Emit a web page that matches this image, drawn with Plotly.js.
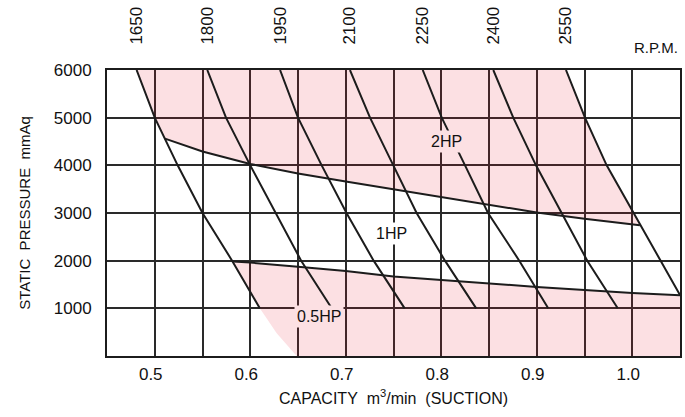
<!DOCTYPE html>
<html><head><meta charset="utf-8">
<script src="https://cdn.plot.ly/plotly-3.0.1.min.js"></script>
<style>html,body{margin:0;padding:0;background:#fff}</style>
</head><body><div id="chart" style="width:685px;height:417px"></div>
<script>
// ---- data ----
const xRange = [0.45, 1.05];
const yRange = [0, 6000];
const xTickVals = [0.5, 0.6, 0.7, 0.8, 0.9, 1.0];
const xTickText = ['0.5', '0.6', '0.7', '0.8', '0.9', '1.0'];
const yTickVals = [1000, 2000, 3000, 4000, 5000, 6000];
const yTickText = ['1000', '2000', '3000', '4000', '5000', '6000'];

const rpmLabels = ['1650', '1800', '1950', '2100', '2250', '2400', '2550'];
const pressureLevels = [6000, 5000, 4000, 3000, 2000, 1000];
const rpm1650 = [0.481, 0.500, 0.524, 0.550, 0.581, 0.610];
const rpm1800 = [0.555, 0.5746, 0.600, 0.6266, 0.6533, 0.6853];
const rpm1950 = [0.6312, 0.650, 0.6748, 0.7008, 0.7292, 0.7617];
const rpm2100 = [0.7044, 0.7254, 0.7498, 0.7742, 0.8039, 0.8366];
const rpm2250 = [0.7806, 0.8005, 0.8249, 0.849, 0.8817, 0.912];
const rpm2400 = [0.8545, 0.8754, 0.8992, 0.926, 0.9529, 0.9848];
const rpm2550X = [0.9306, 0.9505, 0.9732, 1.0015, 1.0297, 1.05];
const rpm2550Y = [6000, 5000, 4000, 3000, 2000, 1280];

const hp1X = [0.5107, 0.55, 0.6, 0.65, 0.7, 0.75, 0.8, 0.85, 0.9, 0.95, 1.0, 1.008];
const hp1Y = [4560, 4290, 4030, 3830, 3660, 3500, 3340, 3170, 3010, 2880, 2760, 2745];
const hp05X = [0.582, 0.6, 0.65, 0.7, 0.75, 0.8, 0.85, 0.9, 0.95, 1.0, 1.05];
const hp05Y = [1985, 1960, 1870, 1785, 1670, 1595, 1515, 1450, 1385, 1320, 1275];
// pink edge below the 1650 curve (no line drawn)
const edgeX = [0.6277, 0.6486];
const edgeY = [476, 0];

const hpLabels = ['2HP', '1HP', '0.5HP'];
const hpLabelX = [0.8057, 0.748, 0.672];
const hpLabelY = [4490, 2574, 829];

// ---- styles ----
const INK = '#1c1c1c';
const GRID = '#2a2a2a';
const PINK = '#fce0e3';
const PINK_FILL = 'rgba(232,17,40,0.13)';
const FONT = 'Liberation Sans, Arial, sans-serif';

// ---- build shaded regions ----
const upX = [], upY = [];
pressureLevels.forEach((p, i) => { if (p > hp1Y[0]) { upX.push(rpm1650[i]); upY.push(p); } });
hp1X.forEach((x, i) => { upX.push(x); upY.push(hp1Y[i]); });
for (let i = rpm2550Y.length - 1; i >= 0; i--) {
  if (rpm2550Y[i] > hp1Y[hp1Y.length - 1]) { upX.push(rpm2550X[i]); upY.push(rpm2550Y[i]); }
}

const lowX = [], lowY = [];
hp05X.forEach((x, i) => { lowX.push(x); lowY.push(hp05Y[i]); });
lowX.push(xRange[1]); lowY.push(yRange[0]);
for (let i = edgeX.length - 1; i >= 0; i--) { lowX.push(edgeX[i]); lowY.push(edgeY[i]); }
for (let i = pressureLevels.length - 1; i >= 0; i--) {
  if (pressureLevels[i] < hp05Y[0]) { lowX.push(rpm1650[i]); lowY.push(pressureLevels[i]); }
}

const traces = [];
[[upX, upY], [lowX, lowY]].forEach(([x, y]) => traces.push({
  type: 'scatter', mode: 'lines', x: x, y: y, fill: 'toself',
  fillcolor: PINK_FILL, line: { width: 0 }, hoverinfo: 'skip', showlegend: false
}));

const rpmCurves = [rpm1650, rpm1800, rpm1950, rpm2100, rpm2250, rpm2400];
rpmCurves.forEach((c, i) => traces.push({
  type: 'scatter', mode: 'lines', x: c, y: pressureLevels, name: rpmLabels[i] + ' RPM',
  line: { color: INK, width: 2 }, showlegend: false
}));
traces.push({ type: 'scatter', mode: 'lines', x: rpm2550X, y: rpm2550Y, name: '2550 RPM',
  line: { color: INK, width: 2 }, showlegend: false });
traces.push({ type: 'scatter', mode: 'lines', x: hp1X, y: hp1Y, name: '1HP',
  line: { color: INK, width: 2 }, showlegend: false });
traces.push({ type: 'scatter', mode: 'lines', x: hp05X, y: hp05Y, name: '0.5HP',
  line: { color: INK, width: 2 }, showlegend: false });

const rpmTopX = [rpm1650[0], rpm1800[0], rpm1950[0], rpm2100[0], rpm2250[0], rpm2400[0], rpm2550X[0]];
// carrier for the top RPM axis
traces.push({ type: 'scatter', mode: 'none', x: rpmTopX, y: rpmTopX.map(() => yRange[1]),
  xaxis: 'x2', yaxis: 'y', hoverinfo: 'skip', showlegend: false });

const annotations = hpLabels.map((t, i) => ({
  x: hpLabelX[i], y: hpLabelY[i], xref: 'x', yref: 'y', text: t, showarrow: false,
  font: { family: FONT, size: 16, color: '#111' },
  bgcolor: t === '1HP' ? '#ffffff' : PINK, borderpad: 2
}));
annotations.push({
  x: 0.958, y: 1.08, xref: 'paper', yref: 'paper', xanchor: 'center', yanchor: 'middle',
  text: 'R.P.M.', showarrow: false,
  font: { family: FONT, size: 15, color: '#111' }
});

const layout = {
  width: 685, height: 417,
  margin: { l: 107, r: 5, t: 70, b: 61 },
  paper_bgcolor: '#ffffff', plot_bgcolor: '#ffffff',
  showlegend: false,
  xaxis: {
    range: xRange, tickmode: 'array', tickvals: xTickVals, ticktext: xTickText,
    ticks: '', ticklabelshift: -4, ticklabelstandoff: 2,
    tickfont: { family: FONT, size: 17, color: '#111' },
    showgrid: true, gridcolor: GRID, gridwidth: 2,
    minor: { tickmode: 'array', tickvals: [0.45, 0.55, 0.65, 0.75, 0.85, 0.95, 1.05],
      showgrid: true, gridcolor: GRID, gridwidth: 2, ticks: '' },
    zeroline: false, showline: true, mirror: true, linecolor: INK, linewidth: 2,
    title: { text: 'CAPACITY\u00a0\u00a0m<sup>3</sup>/min\u00a0\u00a0(SUCTION)', standoff: 9,
      font: { family: FONT, size: 16, color: '#111' } },
    fixedrange: true
  },
  xaxis2: {
    range: xRange, overlaying: 'x', side: 'top', anchor: 'y',
    tickmode: 'array', tickvals: rpmTopX, ticktext: rpmLabels, tickangle: -90,
    ticks: 'outside', ticklen: 21, tickcolor: 'rgba(0,0,0,0)',
    tickfont: { family: FONT, size: 17, color: '#111' },
    showgrid: false, zeroline: false, showline: false, fixedrange: true
  },
  yaxis: {
    range: yRange, tickmode: 'array', tickvals: yTickVals, ticktext: yTickText,
    ticks: '', ticklabelstandoff: 10,
    tickfont: { family: FONT, size: 17, color: '#111' },
    showgrid: true, gridcolor: GRID, gridwidth: 2,
    zeroline: false, showline: true, mirror: true, linecolor: INK, linewidth: 2,
    title: { text: 'STATIC\u00a0\u00a0PRESSURE\u00a0\u00a0mmAq', standoff: 20,
      font: { family: FONT, size: 15, color: '#111' } },
    fixedrange: true
  },
  annotations: annotations
};

Plotly.newPlot('chart', traces, layout, { displayModeBar: false, staticPlot: true });
</script>
</body></html>
